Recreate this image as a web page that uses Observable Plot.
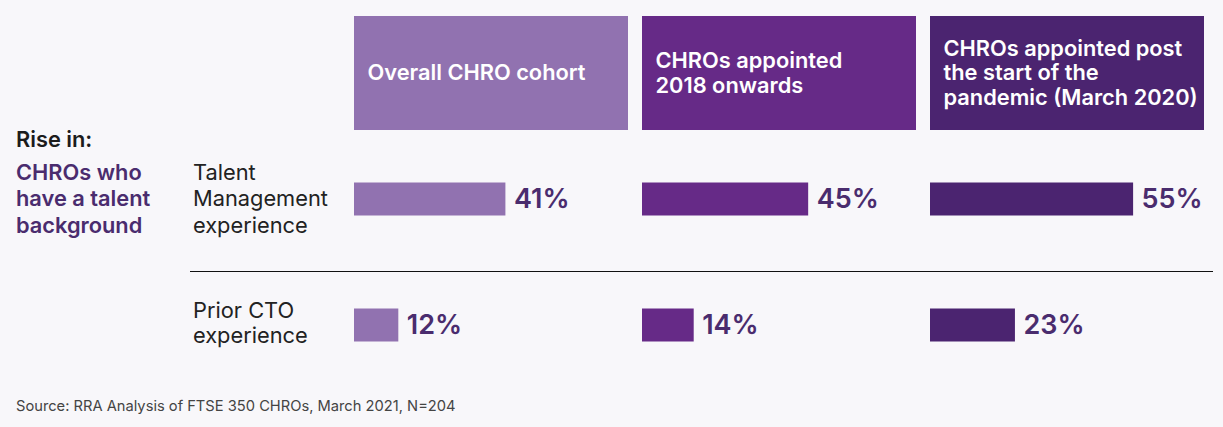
<!DOCTYPE html>
<html>
<head>
<meta charset="utf-8">
<script src="https://cdn.jsdelivr.net/npm/d3@7"></script>
<script src="https://cdn.jsdelivr.net/npm/@observablehq/plot@0.6"></script>
<style>
  html, body { margin: 0; padding: 0; background: #f8f7fa; }
  #wrap { position: relative; width: 1223px; height: 427px; background: #f8f7fa; font-family: Inter, "Noto Sans", sans-serif; overflow: hidden; }
  #chart { position: absolute; left: 0; top: 0; }
  .lbl { position: absolute; font-size: 21.8px; white-space: pre; }
  #rise { left: 16px; top: 125.5px; line-height: 26.5px; font-weight: 600; color: #1c1c1c; }
  #talentbg { left: 16px; top: 158.8px; line-height: 26.5px; font-weight: 600; color: #4a2c6e; }
  #row0 { left: 193px; top: 158.8px; line-height: 26.5px; font-weight: 400; color: #222; }
  #row1 { left: 193px; top: 297.9px; line-height: 25px; font-weight: 400; color: #222; }
  #divider { position: absolute; left: 190px; top: 271px; width: 1023px; height: 1px; background: #111; }
  #source { position: absolute; left: 16px; top: 398.3px; font-size: 14.7px; line-height: 16px; color: #444; }
</style>
</head>
<body>
<div id="wrap">
  <div id="chart"></div>
  <div class="lbl" id="rise"></div>
  <div class="lbl" id="talentbg"></div>
  <div class="lbl" id="row0"></div>
  <div class="lbl" id="row1"></div>
  <div id="divider"></div>
  <div id="source"></div>
</div>
<script>
// ---- Data ----
const panels = [
  "Overall CHRO cohort",
  "CHROs appointed\n2018 onwards",
  "CHROs appointed post\nthe start of the\npandemic (March 2020)"
];
const panelColors = ["#9172b0", "#662a87", "#4b2470"];
const rows = ["Talent\nManagement\nexperience", "Prior CTO\nexperience"];
const talentValues = [41, 45, 55];
const ctoValues = [12, 14, 23];
const leadLabel = "Rise in:";
const groupLabel = "CHROs who\nhave a talent\nbackground";
const sourceText = "Source: RRA Analysis of FTSE 350 CHROs, March 2021, N=204";
const xMax = 74.2;

// ---- Tables built from arrays ----
const headers = panels.map(p => ({panel: p, row: "header"}));
const bars = panels.flatMap((p, i) => [
  {panel: p, row: rows[0], value: talentValues[i]},
  {panel: p, row: rows[1], value: ctoValues[i]}
]);

const font = "Inter, 'Noto Sans', sans-serif";

const chart = Plot.plot({
  width: 1223,
  height: 390,
  marginLeft: 353,
  marginRight: 18,
  marginTop: 10,
  marginBottom: 2,
  style: {background: "transparent", fontFamily: font},
  fx: {domain: panels, paddingInner: 0.0485, paddingOuter: 0, axis: null},
  x: {domain: [0, xMax], axis: null},
  y: {domain: ["header", ...rows], paddingInner: 0, paddingOuter: 0, axis: null},
  color: {domain: panels, range: panelColors},
  marks: [
    Plot.barX(headers, {fx: "panel", y: "row", x1: () => 0, x2: () => xMax, fill: "panel", insetTop: 6, insetBottom: 6}),
    Plot.text(headers, {fx: "panel", y: "row", text: "panel", frameAnchor: "left", dx: 13, dy: -1, textAnchor: "start",
      lineAnchor: "middle", lineHeight: 1.12, fill: "white", fontSize: 21.8, fontWeight: 600, fontFamily: font}),
    Plot.barX(bars, {fx: "panel", y: "row", x1: () => 0, x2: "value", fill: "panel", insetTop: 46.5, insetBottom: 46.5}),
    Plot.text(bars, {fx: "panel", y: "row", x: "value", text: d => d.value + "%", dx: 8, textAnchor: "start",
      fill: "#4a2c6e", fontSize: 27, fontWeight: 600, fontFamily: font})
  ]
});
document.getElementById("chart").appendChild(chart);

document.getElementById("rise").textContent = leadLabel;
document.getElementById("talentbg").textContent = groupLabel;
document.getElementById("row0").textContent = rows[0];
document.getElementById("row1").textContent = rows[1];
document.getElementById("source").textContent = sourceText;
</script>
</body>
</html>
